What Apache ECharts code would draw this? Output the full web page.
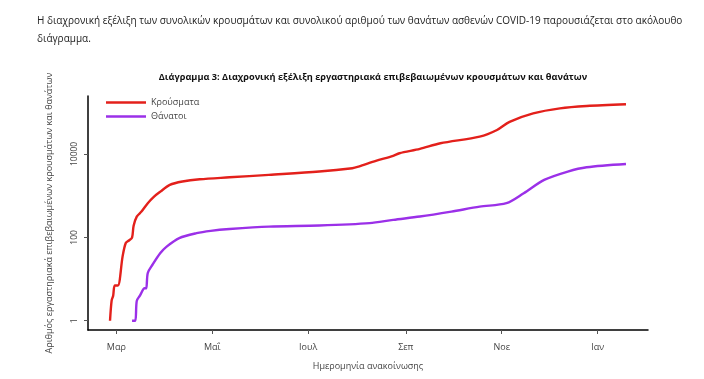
<!DOCTYPE html>
<html>
<head>
<meta charset="utf-8">
<script src="https://cdn.jsdelivr.net/npm/echarts@6/dist/echarts.min.js"></script>
<style>html,body{margin:0;padding:0;background:#fff}#c{width:704px;height:379px}</style>
</head>
<body>
<div id="c"></div>
<script>
const casesDates = ['2020-02-26','2020-02-27','2020-02-28','2020-02-29','2020-03-02','2020-03-05','2020-03-07','2020-03-09','2020-03-11','2020-03-12','2020-03-14','2020-03-17','2020-03-21','2020-03-25','2020-03-29','2020-04-04','2020-04-12','2020-04-23','2020-05-12','2020-06-06','2020-07-08','2020-07-29','2020-08-02','2020-08-13','2020-08-24','2020-08-28','2020-09-10','2020-09-23','2020-10-18','2020-10-29','2020-11-06','2020-11-21','2020-12-08','2020-12-25','2021-01-19'];
const casesValues = [1,3,4,7,7,35,73,84,99,190,315,415,660,950,1250,1810,2180,2470,2750,3150,3780,4550,4970,6800,9000,10400,13200,18000,26000,37500,59000,94000,124000,141000,155000];

const deathsDates = ['2020-03-11','2020-03-13','2020-03-14','2020-03-16','2020-03-19','2020-03-20','2020-03-21','2020-03-24','2020-03-29','2020-04-02','2020-04-10','2020-04-21','2020-04-30','2020-05-12','2020-06-06','2020-07-08','2020-08-09','2020-08-24','2020-09-10','2020-09-30','2020-10-18','2020-11-04','2020-11-15','2020-11-28','2020-12-13','2020-12-25','2021-01-19'];
const deathsValues = [1,1,3,4,6,6,14,22,42,60,96,126,143,158,181,192,219,263,315,414,545,660,1140,2380,3780,4800,5750];

const xTickDates = ['2020-03-01','2020-05-01','2020-07-01','2020-09-01','2020-11-01','2021-01-01'];
const xTickLabels = ['Μαρ','Μαΐ','Ιουλ','Σεπ','Νοε','Ιαν'];
const yTickValues = [1, 100, 10000];
const yTickLabels = ['1','100','10000'];

const seriesNames = ['Κρούσματα','Θάνατοι'];
const introText = 'Η διαχρονική εξέλιξη των συνολικών κρουσμάτων και συνολικού αριθμού των θανάτων ασθενών COVID-19 παρουσιάζεται στο ακόλουθο';
const introText2 = 'διάγραμμα.';
const chartTitle = 'Διάγραμμα 3: Διαχρονική εξέλιξη εργαστηριακά επιβεβαιωμένων κρουσμάτων και θανάτων';
const xName = 'Ημερομηνία ανακοίνωσης';
const yName = 'Αριθμός εργαστηριακά επιβεβαιωμένων κρουσμάτων και θανάτων';

const FONT = 'Open Sans';
const ts = d => new Date(d + 'T00:00:00Z').getTime();
const tickTs = xTickDates.map(ts);

const chart = echarts.init(document.getElementById('c'), null, {renderer: 'canvas'});
chart.setOption({
  backgroundColor: '#fff',
  animation: false,
  textStyle: {fontFamily: FONT},
  graphic: [
    {type: 'text', left: 37, top: 16, style: {text: introText, fontSize: 10, fontFamily: FONT, fill: '#222'}},
    {type: 'text', left: 37, top: 34, style: {text: introText2, fontSize: 10, fontFamily: FONT, fill: '#222'}}
  ],
  title: {
    text: chartTitle, left: 368, top: 68, textAlign: 'center',
    textStyle: {fontSize: 9.2, fontWeight: 'bold', color: '#111', fontFamily: FONT}
  },
  legend: {
    orient: 'vertical', left: 106, top: 98, itemWidth: 40, itemHeight: 2.5, itemGap: 5,
    icon: 'rect', padding: 0,
    textStyle: {fontSize: 9, color: '#444', fontFamily: FONT},
    data: seriesNames
  },
  grid: {left: 88, right: 56, top: 96, bottom: 49},
  xAxis: {
    type: 'value',
    min: ts('2020-02-12'), max: ts('2021-02-02'),
    name: xName, nameLocation: 'middle', nameGap: 32,
    nameTextStyle: {fontSize: 9, color: '#444', fontFamily: FONT},
    axisLine: {lineStyle: {color: '#000', width: 1.5}},
    axisTick: {show: true, length: 4, lineStyle: {color: '#555'}, customValues: tickTs},
    axisLabel: {
      customValues: tickTs, fontSize: 9, color: '#444', margin: 13,
      formatter: function (v) {
        const i = tickTs.indexOf(v);
        return i >= 0 ? xTickLabels[i] : '';
      }
    },
    splitLine: {show: false}
  },
  yAxis: {
    type: 'log', logBase: 10,
    min: 0.6, max: 245000,
    name: yName, nameLocation: 'middle', nameGap: 34, nameRotate: 90,
    nameTextStyle: {fontSize: 9, color: '#444', fontFamily: FONT},
    axisLine: {show: true, lineStyle: {color: '#000', width: 1.5}},
    axisTick: {show: true, length: 4, lineStyle: {color: '#555'}, customValues: yTickValues},
    axisLabel: {
      customValues: yTickValues, rotate: 90, fontSize: 8.5, color: '#444', margin: 9,
      formatter: function (v) {
        const i = yTickValues.findIndex(t => Math.abs(t - v) / t < 1e-6);
        return i >= 0 ? yTickLabels[i] : '';
      }
    },
    splitLine: {show: false}
  },
  series: [
    {name: seriesNames[0], type: 'line', symbol: 'none', smooth: 0.3,
     lineStyle: {color: '#e3201b', width: 2.4}, itemStyle: {color: '#e3201b'},
     data: casesDates.map((d, i) => [ts(d), casesValues[i]])},
    {name: seriesNames[1], type: 'line', symbol: 'none', smooth: 0.3,
     lineStyle: {color: '#9b30e8', width: 2.4}, itemStyle: {color: '#9b30e8'},
     data: deathsDates.map((d, i) => [ts(d), deathsValues[i]])}
  ]
});
</script>
</body>
</html>
